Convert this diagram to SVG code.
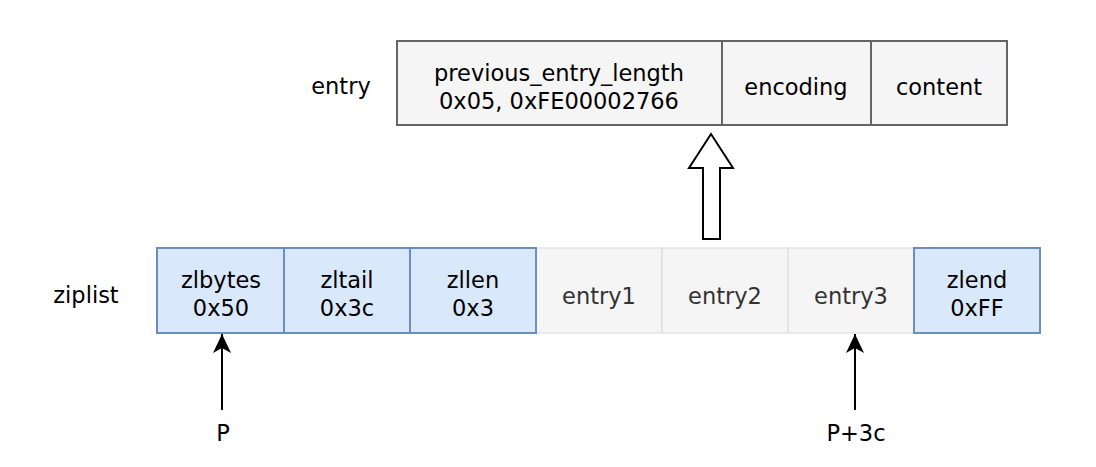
<svg xmlns="http://www.w3.org/2000/svg" width="1096" height="467" viewBox="0 0 1096 467">
<style>
text{font-family:"DejaVu Sans","Open Sans",sans-serif;font-size:22.5px;text-anchor:middle;dominant-baseline:central;fill:#000}
.g rect{fill:#f5f5f5;stroke:#666;stroke-width:2}
.b rect{fill:#dae8fc;stroke:#6c8ebf;stroke-width:2}
.e rect{fill:#f5f5f5;stroke:#d9d9d9;stroke-width:1}
.e text{fill:#333}
</style>
<defs>
<marker id="ah" viewBox="0 0 20 20" refX="19" refY="10" markerWidth="20" markerHeight="20" markerUnits="userSpaceOnUse" orient="auto"><path d="M0,1 L19,10 L0,19 L5,10 Z" fill="#000"/></marker>
</defs>
<text x="341" y="86">entry</text>
<text x="86" y="295">ziplist</text>
<g id="entry-prev" class="g"><rect x="397" y="41" width="325" height="84"/><text x="559" y="73">previous_entry_length</text><text x="559" y="101">0x05,  0xFE00002766</text></g>
<g id="entry-encoding" class="g"><rect x="722" y="41" width="149" height="84"/><text x="796" y="87">encoding</text></g>
<g id="entry-content" class="g"><rect x="871" y="41" width="136" height="84"/><text x="939" y="87">content</text></g>
<g id="entry1" class="e"><rect x="536" y="248" width="126" height="85"/><text x="599" y="296">entry1</text></g>
<g id="entry2" class="e"><rect x="662" y="248" width="126" height="85"/><text x="725" y="296">entry2</text></g>
<g id="entry3" class="e"><rect x="788" y="248" width="126" height="85"/><text x="851" y="296">entry3</text></g>
<g id="zlbytes" class="b"><rect x="157" y="248" width="127" height="85"/><text x="221" y="280">zlbytes</text><text x="221" y="308">0x50</text></g>
<g id="zltail" class="b"><rect x="284" y="248" width="126" height="85"/><text x="347" y="280">zltail</text><text x="347" y="308">0x3c</text></g>
<g id="zllen" class="b"><rect x="410" y="248" width="126" height="85"/><text x="473" y="280">zllen</text><text x="473" y="308">0x3</text></g>
<g id="zlend" class="b"><rect x="914" y="248" width="126" height="85"/><text x="977" y="280">zlend</text><text x="977" y="308">0xFF</text></g>
<g id="connectors">
<path d="M703,239 L720,239 L720,168 L733,168 L711,134 L689,168 L703,168 Z" fill="#fff" stroke="#000" stroke-width="2"/>
<line x1="222" y1="410" x2="222" y2="334" stroke="#000" stroke-width="2" marker-end="url(#ah)"/>
<line x1="855" y1="410" x2="855" y2="334" stroke="#000" stroke-width="2" marker-end="url(#ah)"/>
</g>
<text x="223" y="433">P</text>
<text x="856" y="433">P+3c</text>
</svg>
